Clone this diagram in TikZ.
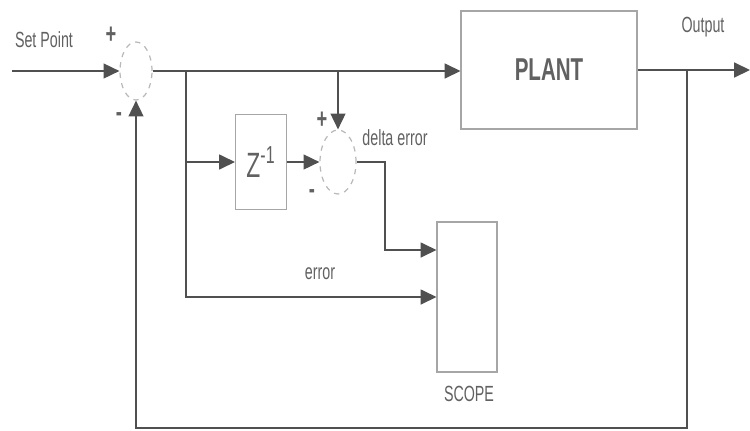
\documentclass[tikz,border=0pt]{standalone}
\usepackage{fontspec}
\setmainfont{Liberation Sans}[FakeStretch=0.65]
\usetikzlibrary{arrows.meta,shapes.geometric}
\definecolor{ink}{HTML}{505050}
\begin{document}
\begin{tikzpicture}[x=0.02cm,y=-0.02cm,font=\fontsize{12.5}{14}\selectfont,text=ink!90,
 wire/.style={draw=ink,line width=0.8pt},
 arr/.style={wire,-{Triangle[length=9pt,width=8.5pt]}},
 blk/.style={draw=gray!70,line width=0.6pt},
 sign/.style={font=\bfseries\fontsize{16}{16}\selectfont},
 sumnode/.style={ellipse,draw=gray!55,dashed,line width=0.7pt}]
 \useasboundingbox (0,0) rectangle (750,430);
 % blocks
 \node[sumnode,minimum width=0.64cm,minimum height=1.16cm] (s1) at (136,71) {};
 \node[sumnode,minimum width=0.72cm,minimum height=1.28cm] (s2) at (338,162) {};
 \node[blk,minimum width=1.02cm,minimum height=1.9cm,font=\fontsize{20}{22}\selectfont] (z) at (261,162) {Z\textsuperscript{-1}};
 \node[blk,minimum width=3.52cm,minimum height=2.36cm,font=\bfseries\fontsize{18}{20}\selectfont] (plant) at (549,70) {PLANT};
 \node[blk,minimum width=1.2cm,minimum height=3cm] (scope) at (467,297) {};
 % labels
 \node (sp) at (44,40) {Set Point}; \node[sign] (p1) at (111,35) {+}; \node[sign] (m1) at (119,117) {-};
 \node[sign] (p2) at (322,120) {+}; \node[sign] (m2) at (312,194) {-};
 \node (de) at (395,138) {delta error}; \node (er) at (320,274) {error};
 \node (op) at (703,27) {Output}; \node (sl) at (469,394) {SCOPE};
 \coordinate (in) at (12,71); \coordinate (j1) at (186,71); \coordinate (d1) at (385,250);
 \coordinate (out) at (750,70); \coordinate (fb) at (687,428);
 % connectors
 \draw[arr] (in) -- (s1.west);
 \draw[arr] (s1.east) -- (s1.east -| plant.west);
 \draw[arr] (j1) |- (scope.west);
 \draw[arr] (j1 |- z.west) -- (z.west); \draw[arr] (z.east) -- (s2.west);
 \draw[arr] (s2.north |- j1) -- (s2.north);
 \draw[arr] (s2.east) -| (d1) -- (d1 -| scope.west);
 \draw[arr] (plant.east) -- (out);
 \draw[arr] (plant.east -| fb) -- (fb) -| (s1.south);
\end{tikzpicture}
\end{document}
